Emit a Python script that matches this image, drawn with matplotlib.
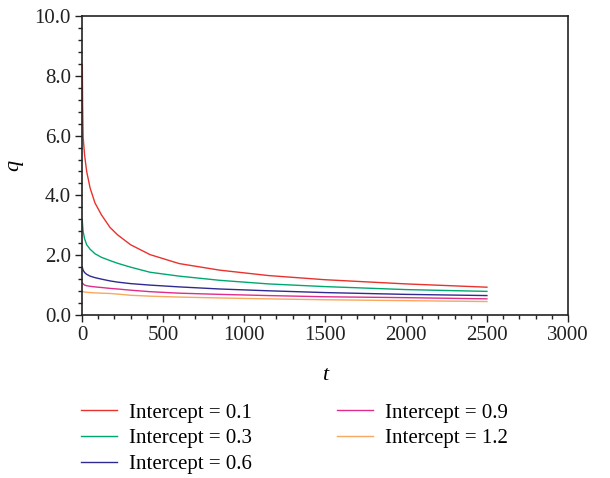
import matplotlib
matplotlib.use("Agg")
import matplotlib.pyplot as plt
from matplotlib.ticker import MultipleLocator, FormatStrFormatter

# values
t = [2, 4, 7, 16, 29, 50, 80, 120, 173, 220, 300, 420, 600, 850, 1150, 1500, 2000, 2500]
q_01 = [8.35, 7.0, 5.95, 5.35, 4.8, 4.25, 3.75, 3.35, 2.93, 2.68, 2.35, 2.02, 1.72, 1.5, 1.32, 1.18, 1.04, 0.93]
q_03 = [3.15, 3.0, 2.8, 2.55, 2.35, 2.2, 2.05, 1.93, 1.82, 1.73, 1.6, 1.43, 1.3, 1.16, 1.04, 0.95, 0.85, 0.79]
q_06 = [1.6, 1.55, 1.5, 1.42, 1.36, 1.3, 1.25, 1.2, 1.14, 1.1, 1.05, 1.0, 0.94, 0.87, 0.81, 0.75, 0.69, 0.65]
q_09 = [1.08, 1.06, 1.04, 1.0, 0.98, 0.96, 0.94, 0.92, 0.89, 0.87, 0.83, 0.78, 0.73, 0.69, 0.65, 0.61, 0.58, 0.54]
q_12 = [0.8, 0.79, 0.78, 0.77, 0.76, 0.75, 0.74, 0.73, 0.72, 0.70, 0.66, 0.63, 0.6, 0.57, 0.54, 0.51, 0.48, 0.45]

labels = ["Intercept = 0.1", "Intercept = 0.3", "Intercept = 0.6",
          "Intercept = 0.9", "Intercept = 1.2"]
colors = ["#e8322d", "#00a870", "#2f2a92", "#e02d8c", "#f8a860"]

plt.rcParams["font.family"] = ["Liberation Serif", "DejaVu Serif"]
plt.rcParams["font.size"] = 15

fig = plt.figure(figsize=(6.1, 4.78), dpi=100)
ax = fig.add_axes([0.1344, 0.341, 0.7966, 0.6255])

for q, lab, c in zip([q_01, q_03, q_06, q_09, q_12], labels, colors):
    ax.plot(t, q, color=c, lw=1.0, label=lab)

ax.set_xlim(0, 3000)
ax.set_ylim(0, 10)
ax.xaxis.set_major_locator(MultipleLocator(500))
ax.xaxis.set_minor_locator(MultipleLocator(100))
ax.yaxis.set_major_locator(MultipleLocator(2))
ax.yaxis.set_minor_locator(MultipleLocator(0.4))
ax.yaxis.set_major_formatter(FormatStrFormatter("%.1f"))

ax.tick_params(which="both", direction="out", top=False, right=False, color="#222222", width=1.0)
ax.tick_params(which="major", length=5, labelsize=15, colors="#222222", pad=3)
ax.tick_params(which="minor", length=3)
for s in ax.spines.values():
    s.set_linewidth(1.2)
    s.set_color("#222222")

ax.set_xlabel("t", style="italic", fontsize=16, labelpad=15)
ax.set_ylabel("q", style="italic", fontsize=16, labelpad=8)

fig.legend(loc="upper left", bbox_to_anchor=(0.133, 0.157), bbox_transform=fig.transFigure,
           ncol=2, frameon=False, fontsize=15, handlelength=1.7, handletextpad=0.6,
           columnspacing=4.1, labelspacing=0.3, borderaxespad=0, borderpad=0)

fig.savefig("out.png", dpi=100)
